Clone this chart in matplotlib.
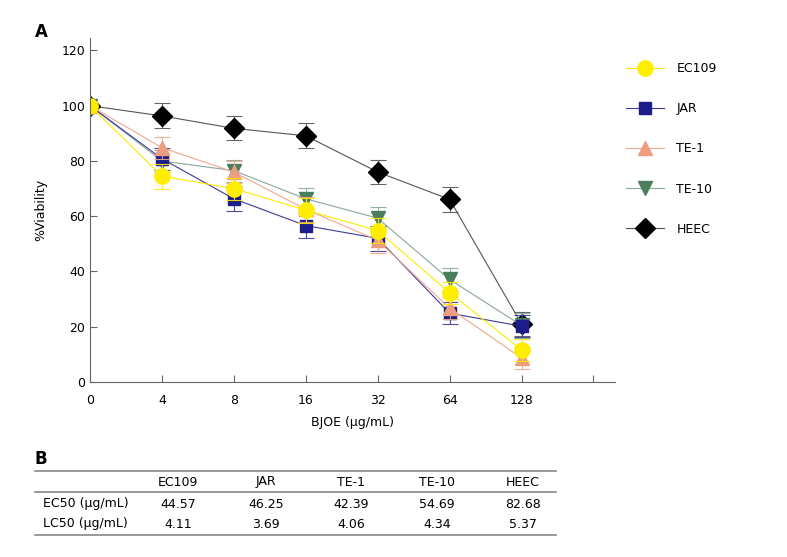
import numpy as np
import matplotlib.pyplot as plt
from matplotlib.lines import Line2D

plt.rcParams['font.family'] = ['DejaVu Sans']

# dose levels (categorical x axis)
doses = ['0', '4', '8', '16', '32', '64', '128']

# % viability per cell line
ec109 = [100, 74.5, 70.0, 62.2, 54.8, 32.3, 11.6]
jar = [100, 80.8, 66.3, 56.6, 52.0, 24.9, 20.2]
te1 = [100, 84.8, 76.0, 62.5, 51.3, 26.7, 8.7]
te10 = [100, 80.0, 76.5, 66.3, 59.3, 37.1, 20.5]
heec = [100, 96.3, 91.8, 89.1, 76.0, 66.1, 21.0]

# error bars (SD)
ec109_err = [0, 4.5, 4.0, 4.5, 4.5, 4.0, 4.0]
jar_err = [0, 4.0, 4.5, 4.5, 4.5, 4.0, 4.0]
te1_err = [0, 4.0, 4.0, 4.5, 4.5, 4.0, 4.0]
te10_err = [0, 4.0, 4.0, 4.0, 4.0, 4.0, 4.5]
heec_err = [0, 4.5, 4.3, 4.5, 4.5, 4.5, 4.5]

# table B
table_cols = ['EC109', 'JAR', 'TE-1', 'TE-10', 'HEEC']
ec50 = ['44.57', '46.25', '42.39', '54.69', '82.68']
lc50 = ['4.11', '3.69', '4.06', '4.34', '5.37']

fig = plt.figure(figsize=(7.87, 5.57), dpi=100)
ax = fig.add_axes([90 / 787, 1 - 382 / 557, 525 / 787, 344 / 557])

x = np.arange(len(doses))

# (label, values, errors, marker colour, line colour, marker, size)
series = [
    ('HEEC', heec, heec_err, 'black', '#555555', 'D', 10),
    ('TE-10', te10, te10_err, '#4c7e5c', '#8aa898', 'v', 10),
    ('JAR', jar, jar_err, '#1c1c8a', '#3a3a9a', 's', 9),
    ('TE-1', te1, te1_err, '#ee9e80', '#f0a88c', '^', 10),
    ('EC109', ec109, ec109_err, '#ffee00', '#ffe800', 'o', 11),
]

handles = {}
for label, vals, err, mc, lc, m, ms in series:
    ax.errorbar(x, vals, yerr=err, fmt='none', ecolor=lc, elinewidth=0.8,
                capsize=6, capthick=0.8, alpha=0.9)
    ax.plot(x, vals, color=lc, linewidth=0.8)
    ax.plot(x, vals, linestyle='none', marker=m, markersize=ms,
            markerfacecolor=mc, markeredgecolor=mc)
    handles[label] = Line2D([], [], color=lc, linewidth=0.8, marker=m,
                            markersize=ms, markerfacecolor=mc,
                            markeredgecolor=mc)

ax.set_xlim(0, 7.3)
ax.set_ylim(0, 124.5)
ax.set_xticks(list(x) + [7])
ax.set_xticklabels(doses + [''])
ax.set_yticks(range(0, 121, 20))
ax.tick_params(direction='in', length=5, color='#666666', labelsize=9)
ax.tick_params(axis='x', pad=9)
for s in ['top', 'right']:
    ax.spines[s].set_visible(False)
for s in ['left', 'bottom']:
    ax.spines[s].set_color('#666666')
ax.set_xlabel('BJOE (\u03bcg/mL)', fontsize=9, labelpad=6)
ax.set_ylabel('%Viability', fontsize=9, labelpad=10)

order = ['EC109', 'JAR', 'TE-1', 'TE-10', 'HEEC']
fig.legend([handles[k] for k in order], order, loc='upper left',
           bbox_to_anchor=(615 / 787, 1 - 51 / 557), frameon=False,
           fontsize=9, labelspacing=2.17, handlelength=3.0, handletextpad=1.0)

fig.text(35 / 787, 1 - 32 / 557, 'A', fontsize=12, fontweight='bold',
         va='center')

# table B
fig.text(35 / 787, 1 - 459 / 557, 'B', fontsize=12, fontweight='bold',
         va='center')
for yl in [471, 492, 535]:
    fig.add_artist(Line2D([35 / 787, 556 / 787], [1 - yl / 557] * 2,
                          color='#888888', linewidth=1.2))
col_x = [178, 266, 351, 437, 523]
for cx, name, e, l in zip(col_x, table_cols, ec50, lc50):
    fig.text(cx / 787, 1 - 482 / 557, name, fontsize=9, ha='center', va='center')
    fig.text(cx / 787, 1 - 504 / 557, e, fontsize=9, ha='center', va='center')
    fig.text(cx / 787, 1 - 524 / 557, l, fontsize=9, ha='center', va='center')
fig.text(43 / 787, 1 - 504 / 557, 'EC50 (\u03bcg/mL)', fontsize=9, va='center')
fig.text(43 / 787, 1 - 524 / 557, 'LC50 (\u03bcg/mL)', fontsize=9, va='center')

fig.savefig('out.png', dpi=100)
